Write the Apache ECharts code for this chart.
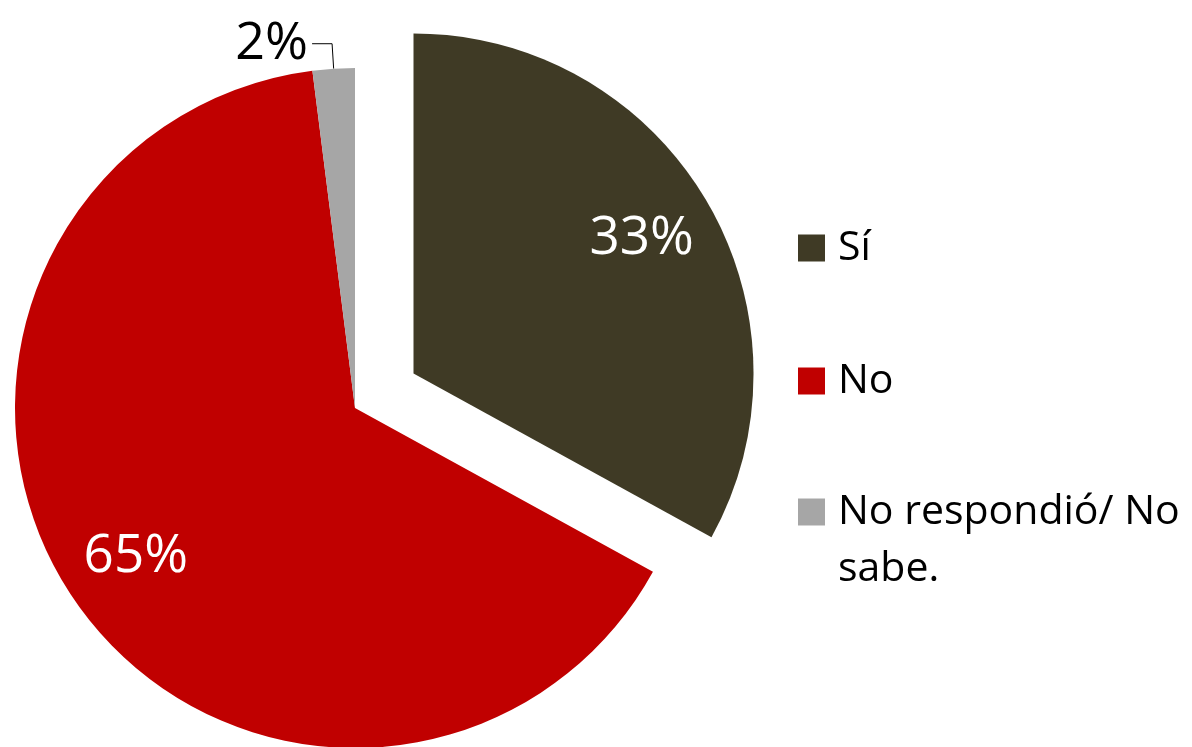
<!DOCTYPE html>
<html>
<head>
<meta charset="utf-8">
<script src="https://cdn.jsdelivr.net/npm/echarts@6/dist/echarts.min.js"></script>
<style>
  html, body { margin: 0; padding: 0; background: #fff; }
  #pie { width: 1192px; height: 747px; }
</style>
</head>
<body>
<div id="pie"></div>
<script>
  var chartDom = document.getElementById("pie");
  var myChart = echarts.init(chartDom);

  // datos
  var categorias = ["Sí", "No", "No respondió/ No sabe."];
  var valores = [33, 65, 2];
  var colores = ["#3f3a25", "#c00000", "#a6a6a6"];

  var fuente = "'Open Sans', 'Noto Sans', sans-serif";

  // datos de la serie principal (la etiqueta pequeña va fuera)
  var datosPie = categorias.map(function (nombre, i) {
    return {
      name: nombre,
      value: valores[i],
      selected: i === 0,
      itemStyle: { color: colores[i] },
      label: { show: valores[i] < 5 },
      labelLine: { show: valores[i] < 5 },
    };
  });

  // serie transparente solo para colocar las etiquetas interiores
  var datosEtiquetas = categorias.map(function (nombre, i) {
    return {
      name: nombre,
      value: valores[i],
      selected: i === 0,
      label: { show: valores[i] >= 5 },
    };
  });

  // una leyenda por elemento para controlar la posición
  var leyendaTop = [219.5, 352.5, 426.5];
  var leyendas = categorias.map(function (nombre, i) {
    return {
      data: [nombre],
      orient: "vertical",
      left: 798,
      top: leyendaTop[i],
      padding: 0,
      icon: "rect",
      itemWidth: 27,
      itemHeight: 27,
      selectedMode: false,
      formatter: function (n) {
        // la primera línea queda alineada con el cuadrado
        return n.length > 10 ? "\nNo respondió/ No\nsabe." : n;
      },
      textStyle: {
        fontFamily: fuente,
        fontSize: 41,
        lineHeight: 57,
        color: "#000",
        padding: [0, 0, 0, 8],
      },
    };
  });

  var option = {
    animation: false,
    legend: leyendas,
    series: [
      {
        name: "principal",
        type: "pie",
        center: [355, 408],
        radius: [0, 340],
        startAngle: 90,
        clockwise: true,
        selectedMode: "single",
        selectedOffset: 68,
        avoidLabelOverlap: false,
        emphasis: { disabled: true },
        silent: true,
        label: {
          position: "outside",
          formatter: "{c}%",
          fontFamily: fuente,
          fontSize: 52,
          color: "#000",
          distanceToLabelLine: 4,
        },
        labelLine: {
          length: 25,
          length2: 20,
          lineStyle: { color: "#000", width: 1 },
        },
        data: datosPie,
      },
      {
        name: "etiquetas",
        type: "pie",
        center: [355, 408],
        radius: [184, 340],
        startAngle: 90,
        clockwise: true,
        selectedMode: "single",
        selectedOffset: 68,
        emphasis: { disabled: true },
        silent: true,
        itemStyle: { color: "rgba(0,0,0,0)" },
        label: {
          position: "inside",
          formatter: "{c}%",
          fontFamily: fuente,
          fontSize: 53,
          color: "#fff",
        },
        labelLine: { show: false },
        data: datosEtiquetas,
      },
    ],
  };

  option && myChart.setOption(option);
</script>
</body>
</html>
